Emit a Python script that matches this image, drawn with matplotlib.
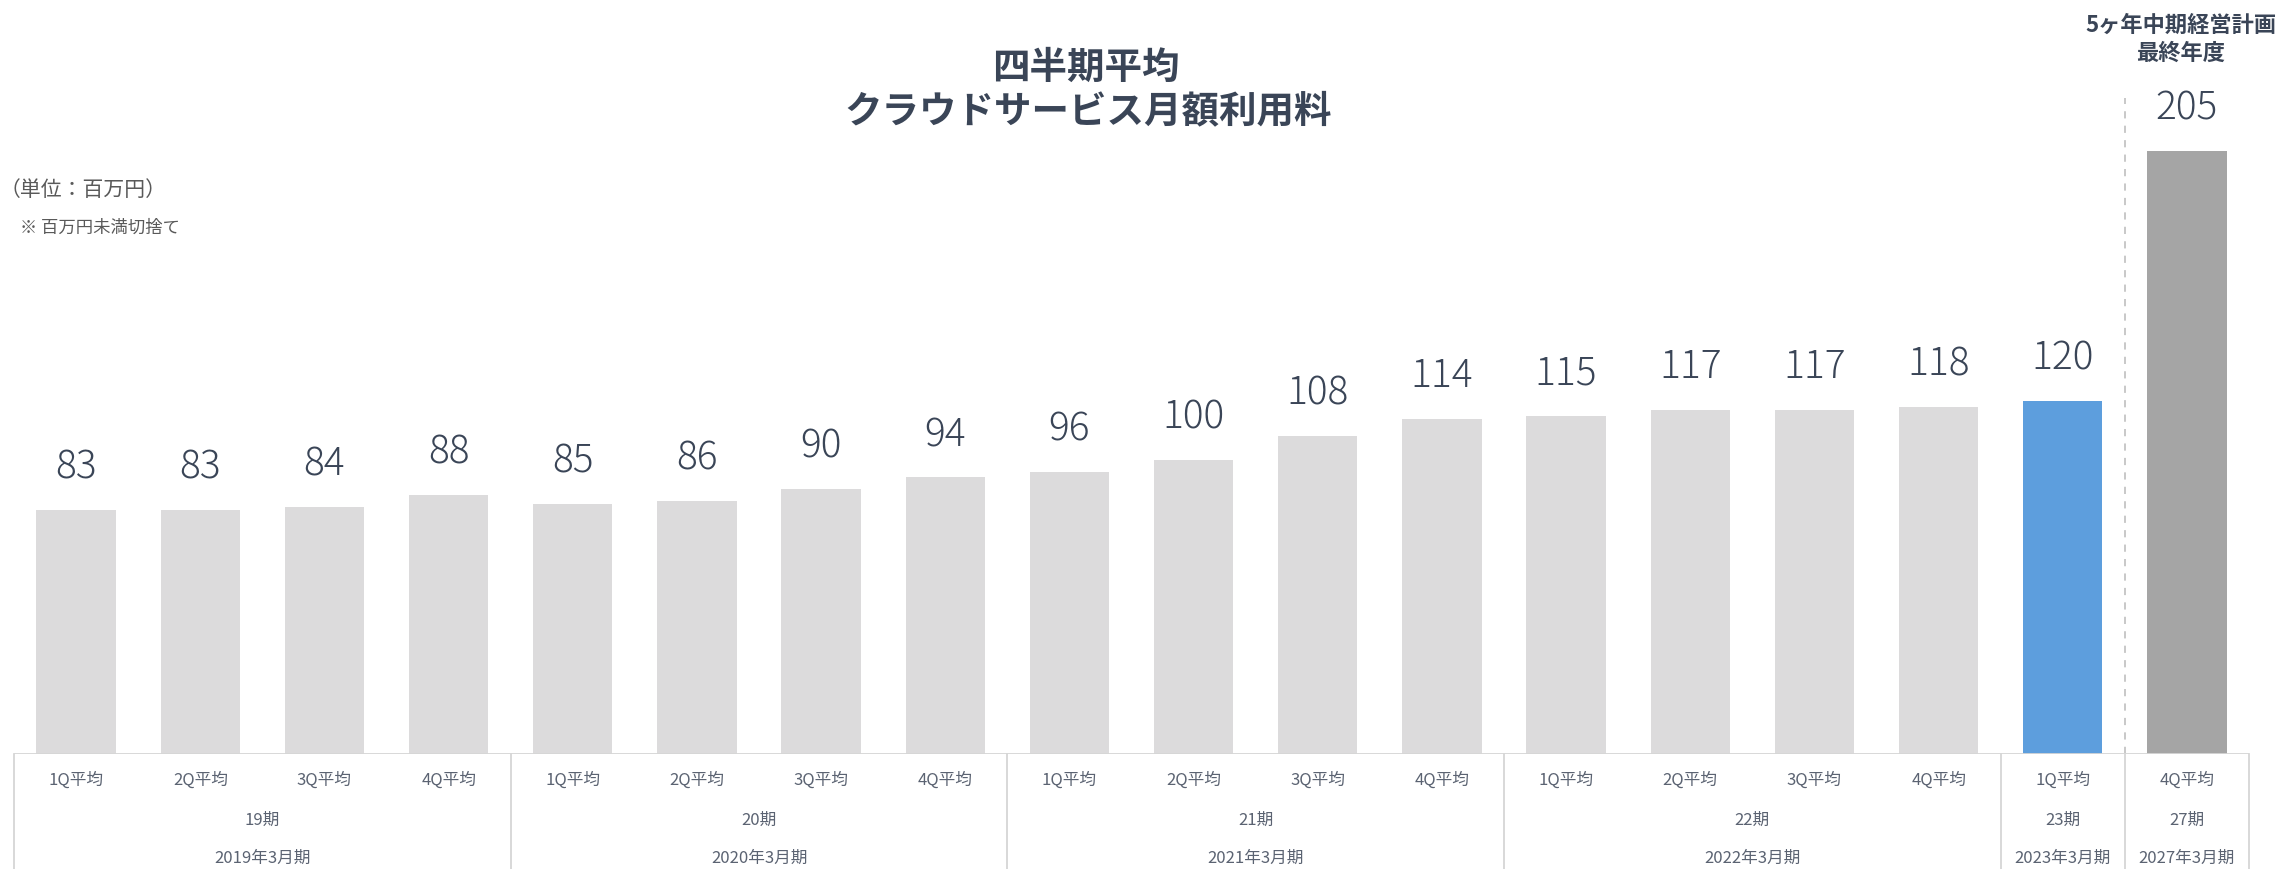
import matplotlib.pyplot as plt

plt.rcParams['font.family'] = ['Noto Sans CJK JP', 'DejaVu Sans']

# data
quarters = ['1Q平均', '2Q平均', '3Q平均', '4Q平均'] * 4 + ['1Q平均', '4Q平均']
values = [83, 83, 84, 88, 85, 86, 90, 94, 96, 100, 108, 114, 115, 117, 117, 118, 120, 205]
periods = ['19期', '20期', '21期', '22期', '23期', '27期']
fiscal_years = ['2019年3月期', '2020年3月期', '2021年3月期', '2022年3月期', '2023年3月期', '2027年3月期']
group_sizes = [4, 4, 4, 4, 1, 1]

bar_colors = ['#dcdbdc'] * 16 + ['#5d9edd', '#a5a5a5']
text_dark = '#3a4557'
text_gray = '#5b6372'
line_gray = '#d6d6d6'

W, H = 2288, 870
fig = plt.figure(figsize=(W / 100, H / 100), dpi=100)

base_px = 755
ymax = 250
px_per_unit = 2.942
ax_h = ymax * px_per_unit
ax = fig.add_axes([14 / W, (H - base_px) / H, (2249 - 14) / W, ax_h / H])

x = list(range(len(values)))
ax.bar(x, values, width=0.64, color=bar_colors, zorder=2)
ax.set_xlim(-0.5, len(values) - 0.5)
ax.set_ylim(0, ymax)
ax.axis('off')

# value labels
for xi, v in zip(x, values):
    ax.annotate(str(v), (xi, v), xytext=(0, 31), textcoords='offset points',
                ha='center', va='center', fontsize=28, fontweight='light', color=text_dark)

# baseline and table lines under the chart
ax.axhline(0, color=line_gray, lw=1.3, zorder=3)
tr = ax.get_xaxis_transform()
bottom = -(H - base_px) / ax_h


def px_to_axes(y_px):
    return -(y_px - base_px) / ax_h


edges = [-0.5]
for g in group_sizes:
    edges.append(edges[-1] + g)
for e in edges:
    ax.plot([e, e], [0, bottom], transform=tr, color=line_gray, lw=1.3, clip_on=False)

# dashed separator before plan year
ax.vlines(edges[-2], 0, (base_px - 99) / px_per_unit, colors='#c4c4c4',
          linestyles=(0, (4, 4)), lw=1.3, zorder=1)

# category labels
for xi, q in zip(x, quarters):
    ax.text(xi, px_to_axes(780), q, transform=tr, ha='center', va='center',
            fontsize=12, color=text_gray)
for i, (p, fy) in enumerate(zip(periods, fiscal_years)):
    c = (edges[i] + edges[i + 1]) / 2
    ax.text(c, px_to_axes(820), p, transform=tr, ha='center', va='center',
            fontsize=12, color=text_gray)
    ax.text(c, px_to_axes(858), fy, transform=tr, ha='center', va='center',
            fontsize=12, color=text_gray)

# titles and notes
fig.text(1086 / W, 1 - 67 / H, '四半期平均', ha='center', va='center',
         fontsize=27, fontweight='bold', color=text_dark)
fig.text(1088 / W, 1 - 111 / H, 'クラウドサービス月額利用料', ha='center', va='center',
         fontsize=27, fontweight='bold', color=text_dark)
fig.text(2181 / W, 1 - 25 / H, '5ヶ年中期経営計画', ha='center', va='center',
         fontsize=16, fontweight='bold', color=text_dark)
fig.text(2181 / W, 1 - 53 / H, '最終年度', ha='center', va='center',
         fontsize=16, fontweight='bold', color=text_dark)
fig.text(0 / W, 1 - 190 / H, '（単位：百万円）', ha='left', va='center',
         fontsize=15, color='#595959')
fig.text(20 / W, 1 - 228 / H, '※ 百万円未満切捨て', ha='left', va='center',
         fontsize=12.5, color='#595959')

fig.savefig('out.png', dpi=100, facecolor='white')
